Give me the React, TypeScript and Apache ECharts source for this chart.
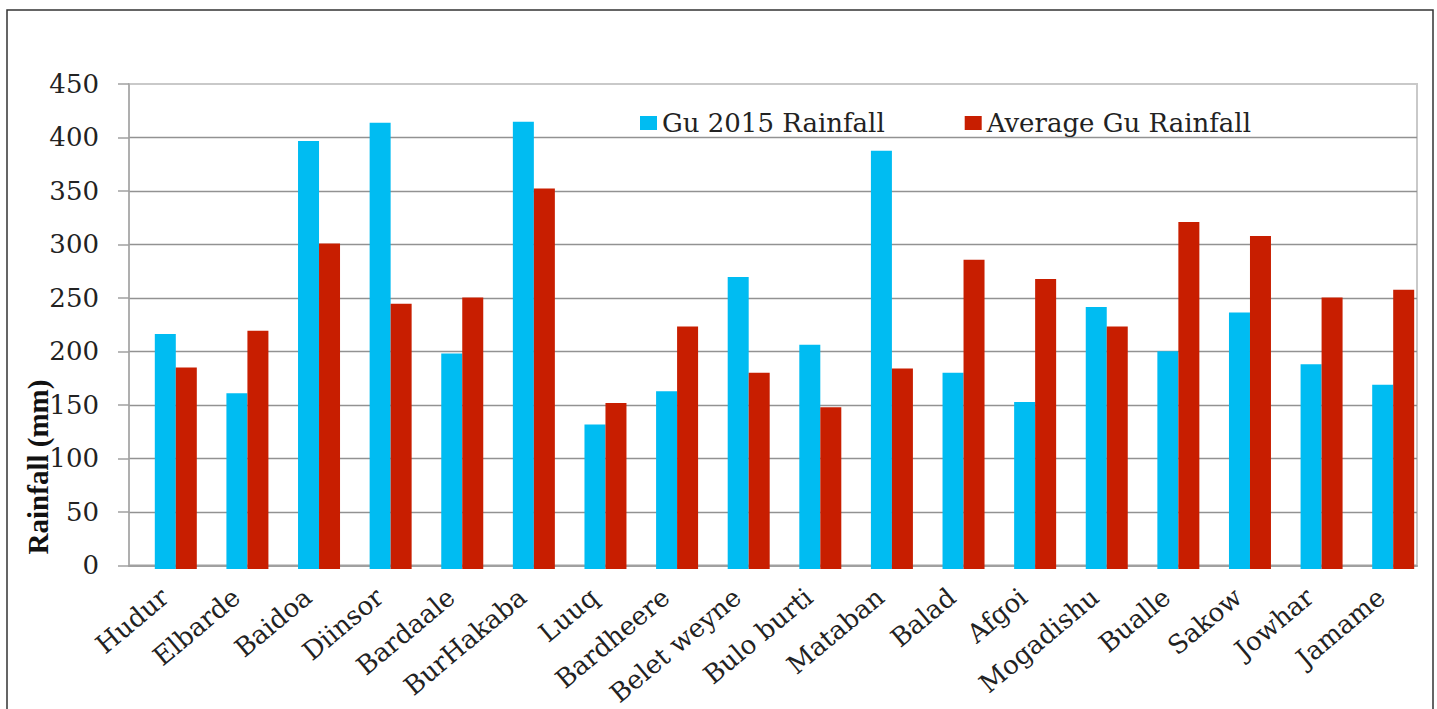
import React, { useEffect, useRef } from "react";
import * as echarts from "echarts";

// Stations along the x axis
const categories = [
  "Hudur", "Elbarde", "Baidoa", "Diinsor", "Bardaale", "BurHakaba", "Luuq",
  "Bardheere", "Belet weyne", "Bulo burti", "Mataban", "Balad", "Afgoi",
  "Mogadishu", "Bualle", "Sakow", "Jowhar", "Jamame",
];

// Rainfall in mm
const gu2015Rainfall = [218, 163, 397, 414, 200, 415, 134, 165, 271, 208, 388, 182, 155, 243, 202, 238, 190, 171];
const averageGuRainfall = [187, 221, 302, 246, 252, 353, 154, 225, 182, 150, 186, 287, 269, 225, 322, 309, 252, 259];

const yMin = 0;
const yMax = 450;
const yStep = 50;

const seriesNames = ["Gu 2015 Rainfall", "Average Gu Rainfall"];
const seriesColors = ["#00BCF2", "#C81E00"];

const SERIF = '"DejaVu Serif", "Liberation Serif", serif';

export default function App() {
  const ref = useRef<HTMLDivElement>(null);

  useEffect(() => {
    if (!ref.current) return;
    const chart = echarts.init(ref.current, null, { renderer: "svg" });

    const option: echarts.EChartsOption = {
      animation: false,
      backgroundColor: "#ffffff",
      color: seriesColors,
      legend: {
        data: seriesNames,
        left: 640,
        top: 110,
        padding: 0,
        itemWidth: 17,
        itemHeight: 14,
        itemGap: 80,
        icon: "rect",
        textStyle: { fontFamily: SERIF, fontSize: 26, color: "#222" },
      },
      grid: [
        // frame holding the value axis, gridlines and station labels
        {
          left: 129, top: 84, width: 1288, height: 485,
          show: true, borderColor: "#c9c9c9", borderWidth: 2,
        },
        // frame holding the bars
        { left: 140, top: 84, width: 1289, height: 485 },
      ],
      xAxis: [
        {
          type: "category",
          gridIndex: 0,
          data: categories,
          axisLine: { show: true, lineStyle: { color: "#a0a0a0", width: 2 } },
          axisTick: { show: false },
          axisLabel: {
            rotate: 40,
            margin: 28,
            interval: 0,
            fontFamily: SERIF,
            fontSize: 26,
            color: "#222",
          },
        },
        {
          type: "category",
          gridIndex: 1,
          data: categories,
          show: false,
        },
      ],
      yAxis: [
        {
          type: "value",
          gridIndex: 0,
          min: yMin,
          max: yMax,
          interval: yStep,
          axisLine: { show: true, lineStyle: { color: "#a6a6a6", width: 1.5 } },
          axisTick: { show: true, length: 11, lineStyle: { color: "#a0a0a0", width: 1.5 } },
          axisLabel: {
            margin: 30,
            fontFamily: SERIF,
            fontSize: 26,
            color: "#222",
          },
          splitLine: {
            show: true,
            showMaxLine: false,
            lineStyle: { color: "#929292", width: 1.3 },
          },
        },
        {
          type: "value",
          gridIndex: 1,
          min: yMin,
          max: yMax,
          interval: yStep,
          show: false,
          splitLine: { show: false },
        },
      ],
      series: [
        {
          name: seriesNames[0],
          type: "bar",
          xAxisIndex: 1,
          yAxisIndex: 1,
          data: gu2015Rainfall,
          barWidth: 21,
          barGap: "0%",
          itemStyle: { color: seriesColors[0] },
        },
        {
          name: seriesNames[1],
          type: "bar",
          xAxisIndex: 1,
          yAxisIndex: 1,
          data: averageGuRainfall,
          barWidth: 21,
          barGap: "0%",
          itemStyle: { color: seriesColors[1] },
        },
      ],
      graphic: [
        {
          type: "rect",
          shape: { x: 7, y: 10, width: 1426, height: 720 },
          style: { fill: "none", stroke: "#333", lineWidth: 1.5 },
          silent: true,
        },
        {
          type: "text",
          x: 38,
          y: 467,
          rotation: Math.PI / 2,
          style: {
            text: "Rainfall (mm)",
            fontFamily: '"Liberation Serif", serif',
            fontWeight: "bold",
            fontSize: 29,
            fill: "#111",
            align: "center",
            verticalAlign: "middle",
          },
        },
      ],
    };

    chart.setOption(option);
    return () => chart.dispose();
  }, []);

  return (
    <div
      ref={ref}
      style={{ position: "fixed", left: 0, top: 0, width: 1437, height: 709 }}
    />
  );
}
